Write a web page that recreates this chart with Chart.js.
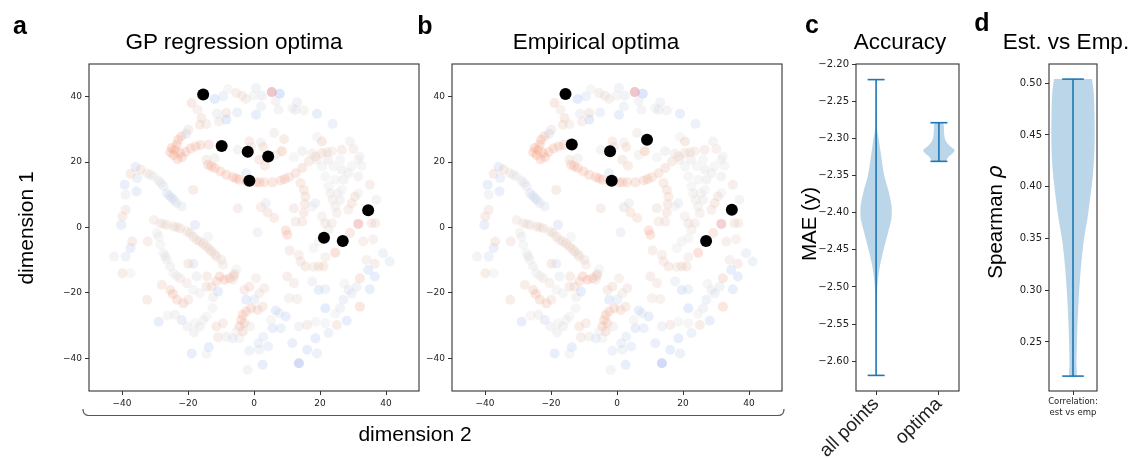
<!DOCTYPE html>
<html>
<head>
<meta charset="utf-8">
<script src="https://cdn.jsdelivr.net/npm/chart.js@4.4.1/dist/chart.umd.min.js"></script>
<style>
  body { margin: 0; background: #fff; width: 1131px; height: 458px; overflow: hidden; position: relative; }
  canvas { position: absolute; top: 0; }
  svg { position: absolute; left: 0; top: 0; font-family: 'Liberation Sans', Arial, sans-serif; fill: #000; }
</style>
</head>
<body>
<canvas id="chartA" width="425" height="458" style="left:0px"></canvas>
<canvas id="chartB" width="370" height="458" style="left:420px"></canvas>
<canvas id="chartC" width="170" height="458" style="left:800px"></canvas>
<canvas id="chartD" width="121" height="458" style="left:1010px"></canvas>
<svg width="1131" height="458">
  <text x="20" y="34" font-size="25" font-weight="bold" text-anchor="middle">a</text>
  <text x="425" y="34" font-size="25" font-weight="bold" text-anchor="middle">b</text>
  <text x="812" y="33" font-size="25" font-weight="bold" text-anchor="middle">c</text>
  <text x="982" y="31" font-size="25" font-weight="bold" text-anchor="middle">d</text>
  <text x="234" y="49" font-size="22.5" text-anchor="middle">GP regression optima</text>
  <text x="596" y="49" font-size="22.5" text-anchor="middle">Empirical optima</text>
  <text x="900" y="49" font-size="22.5" text-anchor="middle">Accuracy</text>
  <text x="1066" y="49" font-size="22.5" text-anchor="middle">Est. vs Emp.</text>
  <text transform="translate(33,228) rotate(-90)" font-size="21" text-anchor="middle">dimension 1</text>
  <text x="415" y="441" font-size="21" text-anchor="middle">dimension 2</text>
  <text transform="translate(816,224) rotate(-90)" font-size="20.5" text-anchor="middle">MAE (y)</text>
  <text transform="translate(1002,222) rotate(-90)" font-size="20.5" text-anchor="middle">Spearman <tspan font-style="italic" font-family="DejaVu Sans">ρ</tspan></text>
  <path d="M83,409 C83,414 85,415.5 89,415.5 L778,415.5 C782,415.5 784,414 784,409" fill="none" stroke="#555" stroke-width="1.2"/>
</svg>
<script>
// background embedding points [dim2, dim1, colour value 0..1]
const ringTop = [
  [-18.9,38.1,.65],[-17.1,36.0,.55],[-15.9,33.5,.62],[-16.4,31.4,.62],[-14.4,31.6,.55],[-19.9,29.9,.6],[-20.6,28.7,.4],
  [-11.9,39.3,.3],[-9.4,40.1,.42],[-7.9,42.3,.5],[-5.4,41.1,.58],[-3.6,40.3,.58],[-2.4,39.3,.55],
  [-11.2,34.8,.45],[-8.4,35.0,.62],[-5.1,35.2,.4],[-8.4,33.0,.32],[-10.6,32.4,.58],
  [0.6,42.7,.45],[2.4,40.3,.45],[5.4,41.4,.92],[7.8,40.9,.22],[6.6,38.6,.48],[7.4,36.0,.48],[2.1,37.0,.45],[0.6,34.5,.35],
  [11.6,36.5,.5],[13.1,38.3,.45],[15.1,35.8,.52],[19.1,34.8,.35],[23.8,31.7,.4],[12.6,36.0,.45],[-0.2,40.3,.5]
];
const upperMid = [
  [6.1,28.9,.55],[9.1,27.0,.62],[8.4,23.3,.75],[19.1,27.7,.5],[20.6,26.3,.65],[-1.4,26.3,.62],[-0.9,24.6,.55],
  [2.1,26.0,.52],[2.8,24.6,.62],[1.6,20.7,.62],[3.3,18.9,.62],[-2.4,16.6,.4],[-4.9,23.8,.52],[6.6,22.2,.52],
  [12.1,21.5,.5],[14.6,23.3,.45],[-14.4,20.7,.58],[-11.9,21.2,.52]
];
const curl = [
  [-24.9,24.3,.75],[-24.4,22.2,.75],[-23.2,20.9,.72],[-21.8,21.5,.72],[-20.7,23.1,.7],[-19.2,24.2,.7],[-17.7,24.8,.68],
  [-16.2,25.2,.68],[-13.7,25.3,.65],[-23.4,25.3,.72],[-23.0,26.8,.72],[-22.0,27.9,.7],[-25.4,23.0,.72],[-23.9,23.8,.75],[-22.4,22.8,.72]
];
const midArc = [
  [-13.9,19.2,.7],[-11.9,18.2,.7],[-10.2,17.1,.7],[-8.4,16.1,.7],[-6.4,15.4,.7],[-4.4,14.6,.7],[-2.2,14.1,.7],
  [0.6,13.8,.68],[3.1,13.8,.68],[5.6,13.8,.68],[8.1,14.4,.68],[10.6,15.4,.66],[12.6,16.6,.65],[14.6,18.2,.65],
  [16.6,20.2,.62],[18.6,21.7,.62],[20.6,22.8,.62],[22.2,23.0,.6],[-12.9,18.7,.7],[-5.4,15.0,.7],[1.6,13.8,.68],[9.3,14.8,.68]
];
const rightColumn = [
  [15.1,11.5,.62],[15.6,9.5,.62],[15.4,7.2,.62],[15.1,4.6,.62],[14.6,1.8,.6],[12.1,5.9,.6],[12.6,1.8,.58],[14.1,13.6,.62],
  [9.6,-0.9,.7],[10.1,-2.2,.7],[10.8,-7.0,.6],[13.6,-8.4,.58],[15.6,-11.9,.62],[14.1,-10.4,.6],[10.1,-15.0,.6],
  [12.1,-17.0,.58],[10.6,-21.6,.55],[13.1,-21.9,.55]
];
const rightGrey = [
  [17.6,22.6,.55],[19.1,20.7,.52],[20.6,18.7,.5],[21.6,15.6,.5],[22.6,12.6,.5],[23.1,10.5,.52],[23.8,8.5,.52],
  [24.6,6.4,.53],[25.1,4.4,.55],[23.6,1.3,.55],[22.6,-0.7,.52],[21.6,-3.3,.5],[26.1,20.7,.5],[26.6,17.7,.48],
  [27.1,14.6,.48],[26.6,11.5,.5],[26.1,8.5,.52],[25.4,10.5,.5],[28.6,16.6,.52],[29.6,18.7,.5],[31.6,20.7,.5],
  [32.6,18.9,.5],[29.1,26.3,.52],[30.1,24.0,.55],[32.1,21.7,.5],[26.6,23.8,.6],[18.6,7.4,.45],[17.6,6.4,.5],
  [20.6,3.4,.52],[21.6,1.3,.6],[19.6,-4.3,.5],[18.1,-6.3,.5],[23.6,23.3,.55],[22.4,20.7,.55],[24.6,14.6,.5],[24.1,18.7,.5]
];
const rightOuter = [
  [31.6,15.6,.52],[35.1,13.1,.6],[31.6,10.5,.5],[29.6,7.4,.62],[28.6,5.4,.58],[30.6,9.5,.6],[37.1,8.5,.52],
  [35.6,1.3,.6],[36.8,1.3,.58],[31.6,1.1,.85],[29.1,-1.7,.65],[33.1,-4.3,.58],[36.1,-3.6,.55],[24.6,-7.7,.75],
  [39.1,-7.9,.42],[41.1,-10.4,.42],[36.6,-11.1,.6],[34.1,-9.9,.55],[34.6,-13.0,.35],[36.6,-15.0,.35],[35.1,-18.9,.35],
  [32.1,-15.5,.68],[31.1,-18.1,.45],[28.6,-19.1,.45],[27.4,-17.2,.5],[27.1,-22.1,.42],[26.1,-24.7,.45],[24.6,-26.4,.5],
  [21.6,-24.7,.32],[19.6,-19.1,.35],[17.6,-16.5,.45],[19.6,-11.9,.62],[21.1,-11.9,.62],[21.6,-9.1,.55],[18.1,-12.1,.55],
  [21.6,-18.9,.42],[32.1,-24.2,.7],[29.6,-20.2,.45]
];
const bottomRing = [
  [18.6,-28.8,.5],[21.6,-29.3,.5],[25.1,-29.8,.62],[28.1,-28.5,.35],[22.6,-32.3,.42],[18.6,-33.9,.35],[16.1,-37.4,.35],
  [19.1,-38.5,.4],[13.6,-41.5,.12],[11.6,-35.4,.38],[9.6,-27.2,.35],[6.6,-25.4,.35],[8.1,-30.8,.4],[5.6,-30.8,.38],
  [2.8,-33.4,.42],[1.3,-35.4,.42],[1.6,-37.4,.45],[4.3,-36.4,.4],[2.6,-42.0,.35],[-1.4,-37.7,.42],[-1.9,-43.6,.48],
  [-4.4,-33.9,.5],[-6.4,-33.9,.42],[-2.4,-22.1,.35],[0.1,-22.1,.42],[-2.9,-19.1,.6],[0.6,-15.5,.55],[-1.4,-18.1,.62],
  [3.1,-18.6,.6],[1.6,-20.1,.55],[13.6,-30.3,.45],[16.1,-29.8,.6],[7.6,-26.2,.45],[5.1,-28.3,.5]
];
const bottomColumn = [
  [-4.4,-30.3,.7],[-3.9,-28.3,.7],[-3.4,-26.7,.7],[-2.4,-25.7,.68],[-0.9,-24.7,.68],[1.1,-25.2,.65],[2.6,-24.2,.62],
  [-3.4,-31.8,.65],[-5.4,-31.8,.5],[-1.2,-30.3,.52],[-2.9,-29.3,.65]
];
const upperBand = [
  [-30.4,2.3,.55],[-28.4,1.3,.55],[-26.4,0.8,.58],[-24.4,0.3,.58],[-22.4,-0.2,.6],[-20.4,-1.2,.58],[-18.4,-2.8,.6],
  [-16.4,-4.3,.6],[-14.4,-5.8,.6],[-12.9,-7.3,.6],[-11.4,-8.9,.58],[-9.9,-9.9,.58],[-9.4,-11.4,.55],[-17.4,-3.8,.58],
  [-15.4,-5.0,.6],[-23.4,0.1,.58],[-27.4,1.1,.55],[-19.4,-1.7,.58],[-13.6,-6.6,.58],[-11.9,-8.1,.58],
  [-10.4,-15.0,.72],[-8.9,-16.0,.72],[-7.4,-15.5,.72],[-6.2,-14.8,.65],[-12.9,-18.1,.62],[-14.4,-18.1,.6],[-11.4,-16.5,.65]
];
const lowerBand = [
  [-29.4,-1.7,.5],[-28.4,-5.3,.5],[-27.4,-7.9,.5],[-26.4,-9.9,.5],[-25.4,-11.9,.48],[-24.4,-14.0,.5],[-22.4,-15.5,.55],
  [-20.4,-17.0,.55],[-18.4,-19.1,.5],[-25.4,-19.1,.65],[-24.6,-20.3,.7],[-23.4,-22.1,.68],[-21.4,-23.2,.68],
  [-19.9,-22.1,.6],[-27.9,-17.6,.62],[-32.4,-22.1,.62],[-26.9,-8.9,.48],[-23.4,-14.8,.5],[-28.9,-2.8,.5],
  [-16.4,-20.1,.5],[-17.4,-15.0,.45]
];
const leftDiagonal = [
  [-32.4,16.6,.55],[-30.4,15.6,.5],[-28.9,14.4,.48],[-27.4,12.6,.45],[-26.4,10.5,.42],[-24.9,9.0,.42],[-23.4,7.4,.45],
  [-21.9,6.4,.45],[-31.4,16.1,.52],[-28.2,13.6,.48],[-25.6,9.7,.42],[-24.2,8.3,.43]
];
const leftOuter = [
  [-34.4,17.7,.62],[-35.9,18.5,.38],[-37.4,16.4,.62],[-35.4,15.1,.4],[-39.2,13.1,.38],[-38.9,10.0,.48],[-35.6,11.0,.38],
  [-39.9,3.4,.62],[-38.9,5.4,.6],[-40.2,0.8,.38],[-42.4,-8.9,.48],[-38.9,-8.9,.42],[-37.4,-6.3,.38],[-36.9,-4.3,.62],
  [-39.9,-14.0,.62],[-37.4,-14.0,.5],[-32.2,-4.3,.6],[-18.4,11.5,.62]
];
const lowerLeft = [
  [-28.9,-28.8,.35],[-26.2,-27.0,.5],[-23.9,-26.7,.52],[-21.9,-28.3,.38],[-20.2,-30.3,.48],[-18.9,-38.5,.35],
  [-17.9,-29.3,.5],[-18.2,-32.1,.48],[-14.4,-27.2,.5],[-12.6,-24.7,.5],[-13.7,-36.6,.35],[-14.4,-38.7,.5],
  [-11.4,-30.3,.62],[-9.4,-29.3,.6],[-10.9,-33.6,.6],[-8.4,-33.4,.52],[-12.4,-21.3,.52],[-10.9,-19.6,.35],
  [-14.2,-15.0,.62],[-15.4,-28.3,.5],[-16.4,-30.3,.52]
];
const middleMisc = [
  [-17.9,0.8,.38],[-18.4,-11.1,.4],[-19.9,-11.1,.62],[-13.9,-2.8,.5],[-4.9,5.9,.6],[1.1,-1.5,.45],[3.6,7.4,.45],
  [2.1,6.2,.6],[4.1,4.6,.62],[6.1,2.9,.62],[-5.4,-12.8,.5],[-5.9,-14.2,.6],[-6.4,-16.0,.55]
];

// optima (black dots)
const gpOptX = [-15.4, -9.8, -1.9, 4.3, -1.4, 34.6, 21.2, 26.9];
const gpOptY = [40.7, 24.9, 23.2, 21.7, 14.3, 5.3, -3.1, -4.1];
const empOptX = [-15.6, -13.7, -2.1, 9.1, -1.6, 34.8, 27.0];
const empOptY = [40.8, 25.4, 23.3, 26.8, 14.3, 5.4, -4.1];

const dimTicks = [-40, -20, 0, 20, 40];

// violin: accuracy
const allPtsY = [-2.221, -2.25, -2.28, -2.29, -2.30, -2.32, -2.35, -2.37, -2.39, -2.40, -2.41, -2.43, -2.45, -2.47, -2.49, -2.51, -2.55, -2.59, -2.619];
const allPtsW = [0, 0.003, 0.01, 0.02, 0.04, 0.075, 0.13, 0.195, 0.245, 0.25, 0.24, 0.18, 0.12, 0.065, 0.03, 0.015, 0.006, 0.002, 0];
const optimaY = [-2.279, -2.285, -2.29, -2.30, -2.305, -2.31, -2.316, -2.32, -2.325, -2.331];
const optimaW = [0.07, 0.08, 0.08, 0.095, 0.12, 0.17, 0.25, 0.22, 0.15, 0.1];
const accLabels = ['all points', 'optima'];
const accTicks = [-2.60, -2.55, -2.50, -2.45, -2.40, -2.35, -2.30, -2.25, -2.20];

// violin: spearman correlation
const corrY = [0.504, 0.49, 0.47, 0.45, 0.43, 0.41, 0.39, 0.37, 0.35, 0.33, 0.31, 0.29, 0.27, 0.25, 0.23, 0.217];
const corrW = [0.22, 0.24, 0.248, 0.25, 0.245, 0.228, 0.2, 0.168, 0.128, 0.1, 0.08, 0.065, 0.053, 0.045, 0.04, 0.038];
const corrLabel = ['Correlation:', 'est vs emp'];
const corrTicks = [0.25, 0.30, 0.35, 0.40, 0.45, 0.50];

const bgPoints = [].concat(ringTop, upperMid, curl, midArc, rightColumn, rightGrey, rightOuter,
  bottomRing, bottomColumn, upperBand, lowerBand, leftDiagonal, leftOuter, lowerLeft, middleMisc);

// coolwarm
const stops = [[0, [59, 76, 192]], [0.25, [141, 176, 254]], [0.5, [221, 221, 221]], [0.75, [244, 154, 123]], [1, [180, 4, 38]]];
function coolwarm(t, a) {
  let i = 0;
  while (i < stops.length - 2 && t > stops[i + 1][0]) i++;
  const [t0, c0] = stops[i], [t1, c1] = stops[i + 1];
  const f = (t - t0) / (t1 - t0);
  const c = c0.map((v, k) => Math.round(v + (c1[k] - v) * f));
  return `rgba(${c[0]},${c[1]},${c[2]},${a})`;
}

const minus = v => String(v).replace('-', '\u2212');

const framePlugin = {
  id: 'frame',
  afterDraw(chart) {
    const { ctx, chartArea: a } = chart;
    ctx.save();
    ctx.strokeStyle = '#333';
    ctx.lineWidth = 1.1;
    ctx.strokeRect(a.left, a.top, a.right - a.left, a.bottom - a.top);
    ctx.restore();
  }
};

function axis(min, max, ticks, fmt, fit, tickOpts) {
  return {
    type: 'linear', min, max,
    afterBuildTicks: s => { s.ticks = ticks.map(v => ({ value: v })); },
    afterFit: fit,
    grid: { drawOnChartArea: false, drawTicks: true, tickLength: 4, color: '#333', lineWidth: 1 },
    border: { display: false },
    ticks: Object.assign({
      callback: fmt, color: '#222', padding: 3, autoSkip: false, maxRotation: 0,
      font: { family: 'DejaVu Sans', size: 10 }
    }, tickOpts || {})
  };
}

function options(x, y, pad) {
  return {
    responsive: false, animation: false, devicePixelRatio: 1, events: [],
    layout: { padding: pad },
    plugins: { legend: { display: false }, tooltip: { enabled: false } },
    scales: { x, y }
  };
}

function scatterPanel(id, optX, optY, yWidth, padRight) {
  const small = { font: { family: 'DejaVu Sans', size: 9 } };
  new Chart(document.getElementById(id), {
    type: 'scatter',
    data: {
      datasets: [
        { data: optX.map((x, i) => ({ x, y: optY[i] })), pointBackgroundColor: '#000', pointRadius: 6, pointBorderWidth: 0, order: 0 },
        { data: bgPoints.map(p => ({ x: p[0], y: p[1] })), pointBackgroundColor: bgPoints.map(p => coolwarm(p[2], 0.28)),
          pointRadius: 5, pointBorderWidth: 0, order: 1 }
      ]
    },
    options: options(
      axis(-50, 50, dimTicks, minus, s => { s.height = 30; }, small),
      axis(-50, 50, dimTicks, minus, s => { s.width = yWidth; }, small),
      { left: 0, top: 64, right: padRight, bottom: 37 }
    ),
    plugins: [framePlugin]
  });
}

scatterPanel('chartA', gpOptX, gpOptY, 89, 6);
scatterPanel('chartB', empOptX, empOptY, 32, 8);

const blue = '#1f77b4';
function violin(pos, ys, ws, cap) {
  const right = ys.map((y, i) => ({ x: pos + ws[i], y }));
  const left = ys.map((y, i) => ({ x: pos - ws[i], y })).filter(p => p.x !== pos).reverse();
  const line = (pts) => ({ data: pts, showLine: true, borderColor: blue, borderWidth: 1.6, pointRadius: 0, order: 0 });
  const lo = ys[ys.length - 1], hi = ys[0];
  return [
    { data: right.concat(left), showLine: true, fill: 'shape', tension: 0.3, backgroundColor: 'rgba(31,119,180,0.3)',
      borderWidth: 0, borderColor: 'rgba(0,0,0,0)', pointRadius: 0, order: 1 },
    line([{ x: pos, y: lo }, { x: pos, y: hi }]),
    line([{ x: pos - cap, y: lo }, { x: pos + cap, y: lo }]),
    line([{ x: pos - cap, y: hi }, { x: pos + cap, y: hi }])
  ];
}

new Chart(document.getElementById('chartC'), {
  type: 'scatter',
  data: { datasets: [].concat(violin(1, allPtsY, allPtsW, 0.135), violin(2, optimaY, optimaW, 0.135)) },
  options: options(
    axis(0.68, 2.32, [1, 2], v => accLabels[v - 1], s => { s.height = 67; },
      { minRotation: 45, maxRotation: 45, padding: -2, font: { family: 'Liberation Sans', size: 19 } }),
    axis(-2.64, -2.20, accTicks, v => minus(v.toFixed(2)), s => { s.width = 56; }),
    { left: 0, top: 64, right: 11, bottom: 0 }
  ),
  plugins: [framePlugin]
});

new Chart(document.getElementById('chartD'), {
  type: 'scatter',
  data: { datasets: violin(1, corrY, corrW, 0.125) },
  options: options(
    axis(0.723, 1.277, [1], () => corrLabel, s => { s.height = 30; },
      { font: { family: 'DejaVu Sans', size: 8.5 }, padding: 2 }),
    axis(0.2026, 0.5186, corrTicks, v => v.toFixed(2), s => { s.width = 39; }),
    { left: 0, top: 64, right: 34, bottom: 37 }
  ),
  plugins: [framePlugin]
});
</script>
</body>
</html>
